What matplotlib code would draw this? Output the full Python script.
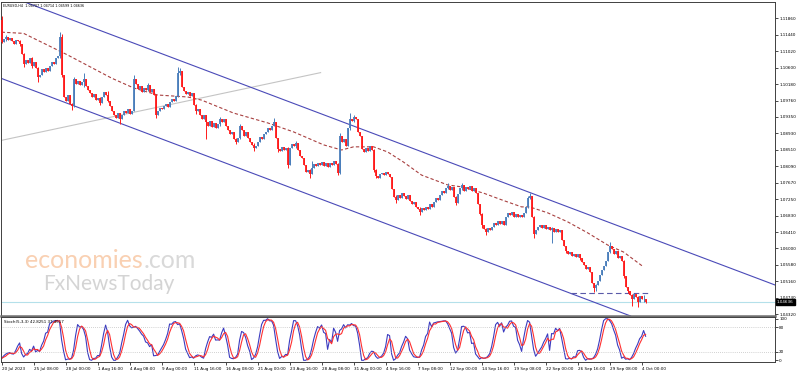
import numpy as np
import pandas as pd
import matplotlib
matplotlib.use("Agg")
import matplotlib.pyplot as plt

W, H = 798, 372

# EURUSD H4 candles, 20 Jul 2023 16:00 -> 4 Oct 2023 08:00
first_open = 1.1181
closes = [
    1.1125, 1.1133, 1.1138, 1.1130, 1.1136, 1.1127, 1.1120, 1.1131, 1.1128, 1.1119,
    1.1095, 1.1068, 1.1080, 1.1072, 1.1085, 1.1064, 1.1075, 1.1060, 1.1036, 1.1042,
    1.1055, 1.1048, 1.1058, 1.1052, 1.1063, 1.1074, 1.1070, 1.1083, 1.1090, 1.1138,
    1.1040, 1.0985, 1.0975, 1.0990, 1.0968, 1.0962, 1.1030, 1.1018, 1.1025, 1.1015,
    1.1022, 1.1030, 1.1012, 1.1003, 1.0995, 1.0985, 1.0992, 1.0978, 1.0983, 1.0970,
    1.0985, 1.0997, 1.0990, 1.0975, 1.0962, 1.0950, 1.0940, 1.0932, 1.0945, 1.0928,
    1.0940, 1.0948, 1.0944, 1.0955, 1.0942, 1.0950, 1.1030, 1.1018, 1.1005, 1.1012,
    1.0998, 1.1008, 1.1002, 1.1015, 1.0998, 1.1006, 1.0990, 1.0940, 1.0950, 1.0958,
    1.0955, 1.0962, 1.0968, 1.0960, 1.0972, 1.0980, 1.0975, 1.0988, 1.1045, 1.1050,
    1.1010, 1.1000, 1.0992, 1.0998, 1.0988, 1.0994, 1.0965, 1.0948, 1.0955, 1.0940,
    1.0930, 1.0938, 1.0920, 1.0912, 1.0925, 1.0908, 1.0918, 1.0905, 1.0915, 1.0928,
    1.0922, 1.0930, 1.0912, 1.0902, 1.0890, 1.0895, 1.0878, 1.0870, 1.0880, 1.0910,
    1.0900, 1.0885, 1.0895, 1.0880, 1.0870, 1.0862, 1.0855, 1.0860, 1.0870, 1.0882,
    1.0878, 1.0890, 1.0895, 1.0905, 1.0900, 1.0912, 1.0920, 1.0880, 1.0852, 1.0848,
    1.0858, 1.0850, 1.0855, 1.0812, 1.0855, 1.0865, 1.0860, 1.0868, 1.0850, 1.0835,
    1.0830, 1.0812, 1.0795, 1.0800, 1.0790, 1.0805, 1.0815, 1.0808, 1.0818, 1.0812,
    1.0820, 1.0810, 1.0816, 1.0806, 1.0818, 1.0812, 1.0822, 1.0815, 1.0792, 1.0885,
    1.0870, 1.0878, 1.0860, 1.0905, 1.0930, 1.0925, 1.0935, 1.0928, 1.0895, 1.0885,
    1.0852, 1.0845, 1.0855, 1.0848, 1.0860, 1.0850, 1.0800, 1.0784, 1.0778, 1.0788,
    1.0792, 1.0785, 1.0795, 1.0790, 1.0780, 1.0750, 1.0730, 1.0722, 1.0735, 1.0728,
    1.0740, 1.0732, 1.0725, 1.0735, 1.0720, 1.0712, 1.0718, 1.0705, 1.0700, 1.0692,
    1.0702, 1.0696, 1.0705, 1.0700, 1.0712, 1.0706, 1.0718, 1.0728, 1.0722, 1.0735,
    1.0745, 1.0740, 1.0752, 1.0758, 1.0748, 1.0755, 1.0730, 1.0715, 1.0738, 1.0752,
    1.0760, 1.0745, 1.0755, 1.0750, 1.0758, 1.0745, 1.0752, 1.0740, 1.0712, 1.0688,
    1.0660, 1.0648, 1.0640, 1.0652, 1.0645, 1.0655, 1.0665, 1.0658, 1.0668, 1.0662,
    1.0670, 1.0660, 1.0680, 1.0690, 1.0685, 1.0692, 1.0680, 1.0688, 1.0678, 1.0685,
    1.0680, 1.0690, 1.0705, 1.0728, 1.0732, 1.0680, 1.0635, 1.0645, 1.0655, 1.0660,
    1.0650, 1.0658, 1.0648, 1.0655, 1.0645, 1.0652, 1.0640, 1.0648, 1.0642, 1.0645,
    1.0620, 1.0605, 1.0592, 1.0585, 1.0590, 1.0580, 1.0586, 1.0578, 1.0584, 1.0575,
    1.0565, 1.0558, 1.0548, 1.0552, 1.0540, 1.0510, 1.0498, 1.0505, 1.0515, 1.0532,
    1.0545, 1.0555, 1.0568, 1.0590, 1.0605, 1.0598, 1.0585, 1.0592, 1.0575, 1.0580,
    1.0568, 1.0530, 1.0500, 1.0490, 1.0480, 1.0470, 1.0482, 1.0475, 1.0462, 1.0478,
    1.0470, 1.04707, 1.04636,
]

# candles with visible wicks: index -> (high, low)
wicks = {
    0: (1.1190, 1.1122), 2: (1.1142, 1.1128), 9: (1.1130, 1.1115), 11: (1.1098, 1.1062),
    15: (1.1088, 1.1060), 18: (1.1062, 1.1022), 29: (1.1150, 1.1085), 30: (1.1145, 1.1035),
    35: (1.0970, 1.0953), 36: (1.1036, 1.0960), 41: (1.1046, 1.1010), 49: (1.0985, 1.0965),
    53: (1.1000, 1.0972), 59: (1.0945, 1.0915), 66: (1.1041, 1.0948), 73: (1.1020, 1.1000),
    77: (1.0992, 1.0932), 88: (1.1061, 1.0985), 89: (1.1058, 1.1040), 97: (1.0968, 1.0942),
    102: (1.0940, 1.0878), 109: (1.0933, 1.0912), 117: (1.0880, 1.0865), 119: (1.0915, 1.0878),
    126: (1.0868, 1.0848), 136: (1.0931, 1.0910), 138: (1.0880, 1.0845), 143: (1.0858, 1.0805),
    147: (1.0872, 1.0855), 154: (1.0802, 1.0778), 155: (1.0822, 1.0788), 168: (1.0818, 1.0786),
    169: (1.0893, 1.0790), 174: (1.0944, 1.0900), 176: (1.0940, 1.0920), 186: (1.0852, 1.0795),
    187: (1.0802, 1.0778), 197: (1.0735, 1.0715), 209: (1.0705, 1.0684), 223: (1.0765, 1.0750),
    227: (1.0732, 1.0710), 230: (1.0765, 1.0748), 239: (1.0712, 1.0684), 240: (1.0690, 1.0650),
    242: (1.0650, 1.0633), 263: (1.0732, 1.0702), 264: (1.0740, 1.0725), 266: (1.0682, 1.0626),
    275: (1.0655, 1.0612), 282: (1.0606, 1.0587), 289: (1.0586, 1.0570), 296: (1.0510, 1.0488),
    297: (1.0508, 1.0490), 304: (1.0615, 1.0588), 311: (1.0570, 1.0525), 313: (1.0502, 1.0486),
    315: (1.0482, 1.0452), 318: (1.0478, 1.0450), 321: (1.0480, 1.0462), 322: (1.04714, 1.04599),
}

# moving average (bar index, price)
ma_idx = [0, 11, 27, 33, 55, 66, 78, 93, 100, 116, 133, 146, 161, 170, 176, 186, 193,
          201, 210, 223, 230, 241, 250, 260, 264, 273, 283, 293, 303, 311, 321]
ma_vals = [1.1150, 1.1147, 1.1107, 1.1092, 1.1033, 1.1008, 1.0990, 1.0985, 1.0977, 1.0944,
           1.0919, 1.0896, 1.0863, 1.0850, 1.0858, 1.0858, 1.0845, 1.0819, 1.0786, 1.0761,
           1.0756, 1.0740, 1.0723, 1.0705, 1.0705, 1.0690, 1.0667, 1.0639, 1.0608, 1.0590,
           1.0552]

# drawn objects: (bar index, price) anchors
upper_channel = [(88.5, 1.1079), (329.5, 1.0616)]
lower_channel = [(-0.5, 1.1033), (313, 1.0430)]
gray_line = [(-0.5, 1.0874), (159.5, 1.1047)]
support_level = 1.0486
support_span = (284.5, 323.5)
bid_price = 1.04636

price_ticks = [1.11860, 1.11440, 1.11020, 1.10600, 1.10180, 1.09760, 1.09350, 1.08930,
               1.08510, 1.08090, 1.07670, 1.07250, 1.06830, 1.06410, 1.06000, 1.05580,
               1.05160, 1.04740, 1.04320]
time_idx = [0, 16, 32, 48, 64, 80, 96, 112, 128, 144, 160, 176, 192, 208, 224, 240,
            256, 272, 288, 304, 320]
time_labels = ["20 Jul 2023", "25 Jul 08:00", "28 Jul 00:00", "1 Aug 16:00", "4 Aug 08:00",
               "9 Aug 00:00", "11 Aug 16:00", "16 Aug 08:00", "21 Aug 00:00", "23 Aug 16:00",
               "28 Aug 08:00", "31 Aug 00:00", "4 Sep 16:00", "7 Sep 08:00", "12 Sep 00:00",
               "14 Sep 16:00", "19 Sep 08:00", "22 Sep 00:00", "26 Sep 16:00", "29 Sep 08:00",
               "4 Oct 00:00"]

# ---- build OHLC
c = np.array(closes)
o = np.r_[first_open, c[:-1]]
hi = np.maximum(o, c)
lo = np.minimum(o, c)
for k, (h_, l_) in wicks.items():
    hi[k] = max(hi[k], h_)
    lo[k] = min(lo[k], l_)
x = np.arange(len(c))

# Stochastic(5,3,3) from the candles
df = pd.DataFrame({"h": hi, "l": lo, "c": c})
ll = df["l"].rolling(5, min_periods=1).min()
hh = df["h"].rolling(5, min_periods=1).max()
num = (df["c"] - ll).rolling(3, min_periods=1).sum()
den = (hh - ll).rolling(3, min_periods=1).sum()
stoch_main = 100 * num / den
stoch_sig = stoch_main.rolling(3, min_periods=1).mean()

# ---- figure
fig = plt.figure(figsize=(W / 100, H / 100), dpi=100)
fig.patch.set_facecolor("white")

def fx(px):
    return px / W

def fy(py):
    return 1 - py / H

ax = fig.add_axes([fx(1), fy(316), fx(775) - fx(1), fy(2) - fy(316)])
ax2 = fig.add_axes([fx(1), fy(362), fx(775) - fx(1), fy(317) - fy(362)])

xlim = (-0.3, 386.7)
ax.set_xlim(*xlim)
ax.set_ylim(1.04271, 1.12269)

bull, bear = "#4a7ebb", "#ff1a1a"
cols = np.where(c >= o, bull, bear)
ax.vlines(x, lo, hi, colors=cols, lw=0.7, zorder=3)
ax.vlines(x, np.minimum(o, c), np.maximum(o, c), colors=cols, lw=1.3, zorder=3)

ax.plot(ma_idx, ma_vals, color="#a84040", lw=0.8, ls=(0, (3, 2)), zorder=2)

ax.axline(upper_channel[0], upper_channel[1], color="#4a4ab8", lw=0.8, zorder=2)
ax.axline(lower_channel[0], lower_channel[1], color="#4a4ab8", lw=0.8, zorder=2)
gx, gy = zip(*gray_line)
ax.plot(gx, gy, color="#c4c4c4", lw=0.8, zorder=1)
ax.plot(support_span, [support_level, support_level], color="#5a5aa8", lw=0.8,
        ls=(0, (5, 3)), zorder=2)
ax.axhline(bid_price, color="#b4e0ea", lw=0.8, zorder=1)

ax.set_xticks([])
ax.set_yticks(price_ticks)
ax.set_yticklabels([f"{v:.5f}" for v in price_ticks])
ax.yaxis.tick_right()
ax.tick_params(axis="y", direction="out", length=2, width=0.5, pad=1, labelsize=3,
               colors="black")
for s in ["left", "top", "right"]:
    ax.spines[s].set_color("#404040")
    ax.spines[s].set_linewidth(0.7)
ax.spines["bottom"].set_color("#707070")
ax.spines["bottom"].set_linewidth(1.8)

# stochastic panel
ax2.set_xlim(*xlim)
ax2.set_ylim(-4.1, 104.1)
ax2.plot(x, stoch_main, color="#3c3cc0", lw=0.8)
ax2.plot(x, stoch_sig, color="#ff3030", lw=0.8)
for lvl in (20, 80):
    ax2.axhline(lvl, color="#a8a8a8", lw=0.5, ls=(0, (1, 2)))
ax2.yaxis.tick_right()
ax2.set_yticks([0, 20, 80, 100])
ax2.set_yticklabels(["0", "20", "80", "100"])
ax2.tick_params(axis="y", direction="out", length=2, width=0.5, pad=1, labelsize=3)
ax2.set_xticks(time_idx)
ax2.set_xticklabels(time_labels, ha="left")
ax2.tick_params(axis="x", direction="out", length=2, width=0.5, pad=1.5, labelsize=3)
for s in ax2.spines.values():
    s.set_color("#404040")
    s.set_linewidth(0.7)
ax2.text(0.004, 0.93, "Stoch(5,3,3) 42.8251 37.4517", transform=ax2.transAxes,
         fontsize=2.9, va="top", ha="left")

# header
fig.text(fx(3), fy(6), "EURUSD,H4  1.04707 1.04714 1.04599 1.04636", fontsize=2.4,
         va="center", ha="left")

# current price box
fig.text(fx(777), fy(302), f"{bid_price:.5f}", fontsize=3, color="white", va="center",
         ha="left", bbox=dict(facecolor="black", edgecolor="black", pad=0.6))

# watermark
wm = fig.text(fx(25), fy(268), "economies", fontsize=18, color="#f9d0b2",
              family="Lato", va="baseline", ha="left")
fig.canvas.draw()
bb = wm.get_window_extent(renderer=fig.canvas.get_renderer())
fig.text(bb.x1 / fig.bbox.width + 0.001, fy(268), ".com", fontsize=18, color="#d9d9d9",
         family="Lato", va="baseline", ha="left")
fig.text(fx(43), fy(290), "FxNewsToday", fontsize=15, color="#d4d4d4",
         family="Lato", va="baseline", ha="left")

fig.savefig("out.png", dpi=100)
